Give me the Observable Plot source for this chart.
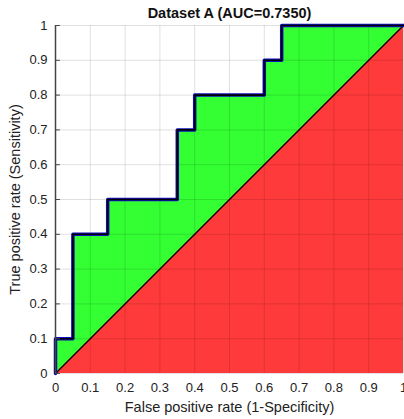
<!DOCTYPE html>
<html><head><meta charset="utf-8">
<script src="https://cdn.jsdelivr.net/npm/d3@7"></script>
<script src="https://cdn.jsdelivr.net/npm/@observablehq/plot@0.6"></script>
<style>body{margin:0;background:#fff;font-family:"Liberation Sans",Arial,sans-serif}</style>
</head><body><div id="chart"></div>
<script>
const fpr = [0, 0, 0.05, 0.05, 0.15, 0.15, 0.35, 0.35, 0.4, 0.4, 0.6, 0.6, 0.65, 0.65, 1];
const tpr = [0, 0.1, 0.1, 0.4, 0.4, 0.5, 0.5, 0.7, 0.7, 0.8, 0.8, 0.9, 0.9, 1, 1];
const ticks = [0, 0.1, 0.2, 0.3, 0.4, 0.5, 0.6, 0.7, 0.8, 0.9, 1];
const tickLabels = ["0", "0.1", "0.2", "0.3", "0.4", "0.5", "0.6", "0.7", "0.8", "0.9", "1"];
const title = "Dataset A (AUC=0.7350)";
const xLabel = "False positive rate (1-Specificity)";
const yLabel = "True positive rate (Sensitivity)";

const roc = fpr.map((x, i) => ({x, y: tpr[i]}));
const diag = [{x: 0, y: 0}, {x: 1, y: 1}];
const tickData = ticks.map((v, i) => ({v, label: tickLabels[i]}));

const chart = Plot.plot({
  width: 404, height: 419,
  marginLeft: 55, marginRight: 1, marginTop: 25, marginBottom: 46,
  x: {domain: [0, 1], axis: null},
  y: {domain: [0, 1], axis: null},
  style: {fontFamily: "'Liberation Sans', Arial, sans-serif", background: "#fff"},
  marks: [
    Plot.area(roc, {x1: "x", y1: 0, y2: "y", fill: "#33ff33", curve: "linear"}),
    Plot.area(diag, {x1: "x", y1: 0, y2: "y", fill: "#ff3a3a"}),
    Plot.ruleX(ticks, {x: d => d, stroke: "#000", strokeOpacity: 0.12}),
    Plot.ruleY(ticks, {y: d => d, stroke: "#000", strokeOpacity: 0.12}),
    Plot.line(diag, {x: "x", y: "y", stroke: "#000", strokeWidth: 1.2}),
    Plot.line(roc, {x: "x", y: "y", stroke: "#1010c0", strokeWidth: 3.5, curve: "linear"}),
    Plot.line(roc, {x: "x", y: "y", stroke: "#000", strokeWidth: 1.6, curve: "linear"}),
    Plot.ruleX([0], {stroke: "#444", strokeWidth: 1.5}),
    Plot.ruleY(ticks, {y: d => d, x1: 0, x2: 0.014, stroke: "#444"}),
    Plot.text(tickData, {y: "v", text: "label", frameAnchor: "left", textAnchor: "end", lineAnchor: "middle", dx: -8, fontSize: 13, fill: "#222"}),
    Plot.text(tickData, {x: "v", text: "label", frameAnchor: "bottom", textAnchor: "middle", lineAnchor: "middle", dy: 14, fontSize: 13, fill: "#222"}),
    Plot.text([title], {frameAnchor: "top", textAnchor: "middle", lineAnchor: "middle", dy: -12, fontSize: 14.5, fontWeight: "bold", fill: "#111"}),
    Plot.text([xLabel], {frameAnchor: "bottom", textAnchor: "middle", lineAnchor: "middle", dy: 34, fontSize: 14.5, fill: "#222"}),
    Plot.text([yLabel], {frameAnchor: "left", textAnchor: "middle", lineAnchor: "middle", dx: -40, rotate: -90, fontSize: 14.5, fill: "#222"})
  ]
});
document.getElementById("chart").appendChild(chart);
</script></body></html>
